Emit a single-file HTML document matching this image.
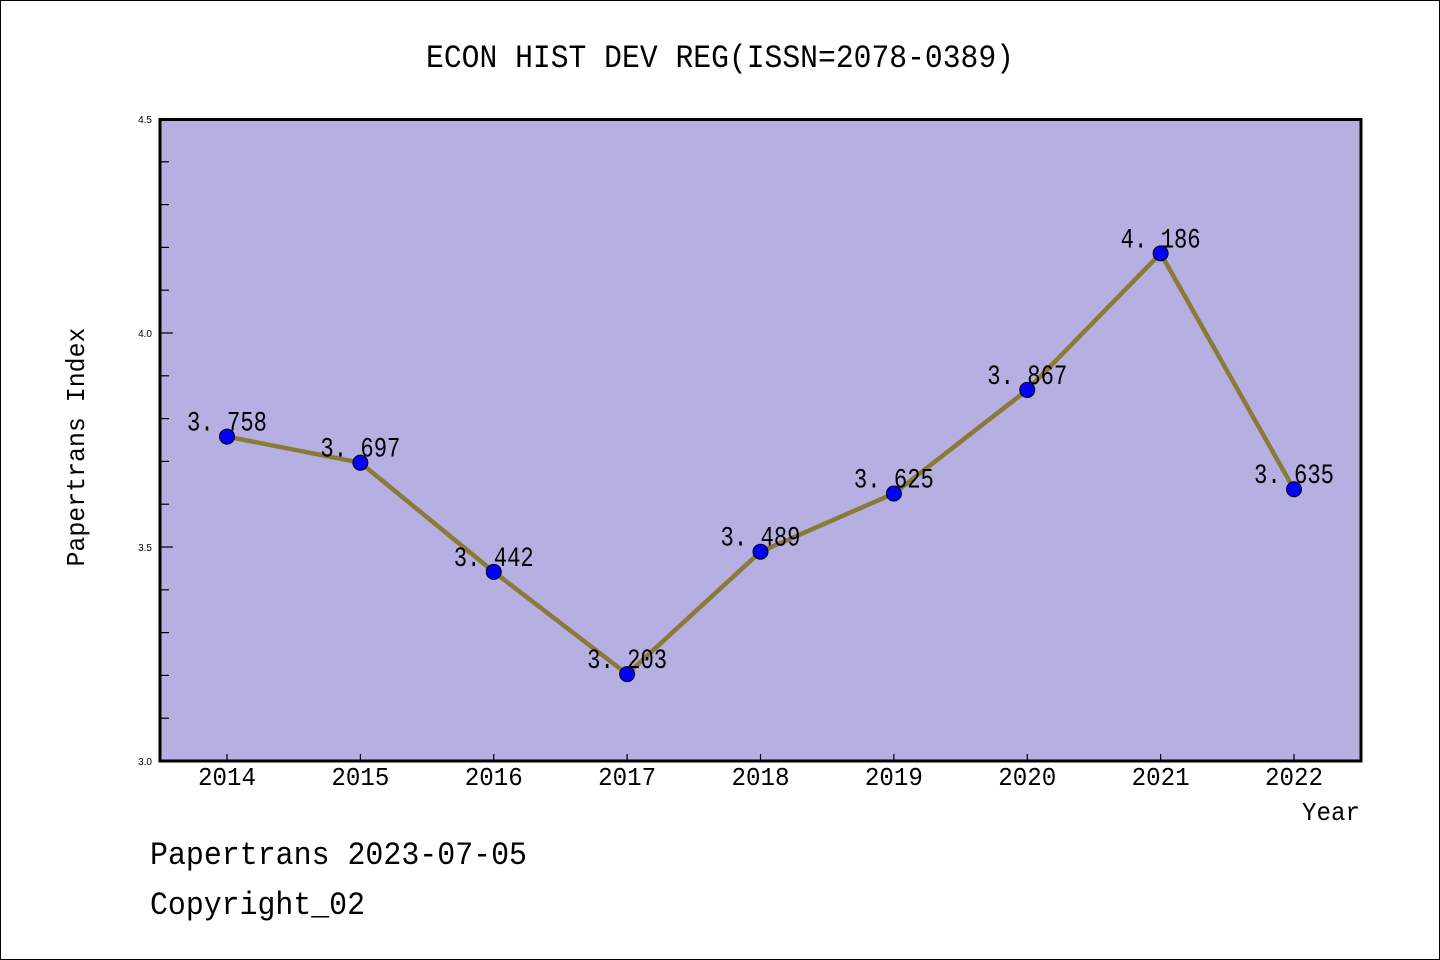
<!DOCTYPE html>
<html><head><meta charset="utf-8"><style>
html,body{margin:0;padding:0;background:#fff;}
svg{display:block;font-family:"Liberation Mono","WenQuanYi Zen Hei",monospace;}
</style></head><body>
<svg id="chart" width="1440" height="960" viewBox="0 0 1440 960" xmlns="http://www.w3.org/2000/svg">
<rect x="0.5" y="0.5" width="1439" height="959" fill="#fff" stroke="#000" stroke-width="1"/>
<text x="720" y="67" font-size="32" text-anchor="middle" textLength="588" lengthAdjust="spacingAndGlyphs">ECON HIST DEV REG(ISSN=2078-0389)</text>
<rect x="160" y="119" width="1201" height="642" fill="#b5afe2"/>
<g id="ticks"></g>
<g id="series"></g>
<rect x="160" y="119.5" width="1201" height="641.5" fill="none" stroke="#000" stroke-width="3"/>
<text transform="translate(84,447) rotate(-90)" font-size="26" text-anchor="middle" textLength="239" lengthAdjust="spacingAndGlyphs">Papertrans Index</text>
<text x="1360" y="820" font-size="26" text-anchor="end" textLength="58" lengthAdjust="spacingAndGlyphs">Year</text>
<text x="150" y="864" font-size="32" textLength="377" lengthAdjust="spacingAndGlyphs">Papertrans 2023-07-05</text>
<text x="150" y="914" font-size="32" textLength="215" lengthAdjust="spacingAndGlyphs">Copyright_02</text>
</svg>
<script>
const years = [2014, 2015, 2016, 2017, 2018, 2019, 2020, 2021, 2022];
const values = [3.758, 3.697, 3.442, 3.203, 3.489, 3.625, 3.867, 4.186, 3.635];
const yMajorTicks = [3.0, 3.5, 4.0, 4.5];
const yMin = 3.0, yMax = 4.5;
const NS = "http://www.w3.org/2000/svg";
function xScale(i){ return 227 + i * (1294 - 227) / (years.length - 1); }
function yScale(v){ return 761 - (v - yMin) / (yMax - yMin) * 642; }
function mk(tag, attrs, parent){ const e = document.createElementNS(NS, tag); for (const k in attrs) e.setAttribute(k, attrs[k]); parent.appendChild(e); return e; }
const ticks = document.getElementById('ticks');
const series = document.getElementById('series');
for (let k = 0; k <= 15; k++) {
  const v = yMin + k * 0.1;
  const y = yScale(v);
  const major = k % 5 === 0;
  const t = mk('line', {x1: 160, x2: major ? 173 : 169, y1: y, y2: y, stroke: '#000', 'stroke-width': 1.2}, ticks);
  
  
}
yMajorTicks.forEach(v => {
  const t = mk('text', {x: 152, y: yScale(v) + 4, 'font-size': 10, 'text-anchor': 'end', 'font-family': 'Liberation Sans, sans-serif'}, ticks);
  t.textContent = v.toFixed(1);
  
  
});
years.forEach((yr, i) => {
  const x = xScale(i);
  const t = mk('line', {x1: x, x2: x, y1: 761, y2: 754, stroke: '#000', 'stroke-width': 1.2}, ticks);
  
  
  const l = mk('text', {x: x, y: 785, 'font-size': 26, 'text-anchor': 'middle', textLength: 58, lengthAdjust: 'spacingAndGlyphs'}, ticks);
  l.textContent = yr;
  
  
});
const pts = values.map((v, i) => xScale(i) + ',' + yScale(v)).join(' ');
const line = mk('polyline', {points: pts, fill: 'none', stroke: '#8b7a35', 'stroke-width': 4.5, 'stroke-linejoin': 'round'}, series);


values.forEach((v, i) => {
  const c = mk('circle', {cx: xScale(i), cy: yScale(v), r: 7.5, fill: '#0000ff', stroke: '#000', 'stroke-width': 1}, series);
  
  
});
values.forEach((v, i) => {
  const t = mk('text', {x: xScale(i), y: yScale(v) - 6, 'font-size': 28, 'text-anchor': 'middle', textLength: 80, lengthAdjust: 'spacingAndGlyphs'}, series);
  t.textContent = v.toFixed(3).replace('.', '. ');
  
  
});
</script>
</body></html>
